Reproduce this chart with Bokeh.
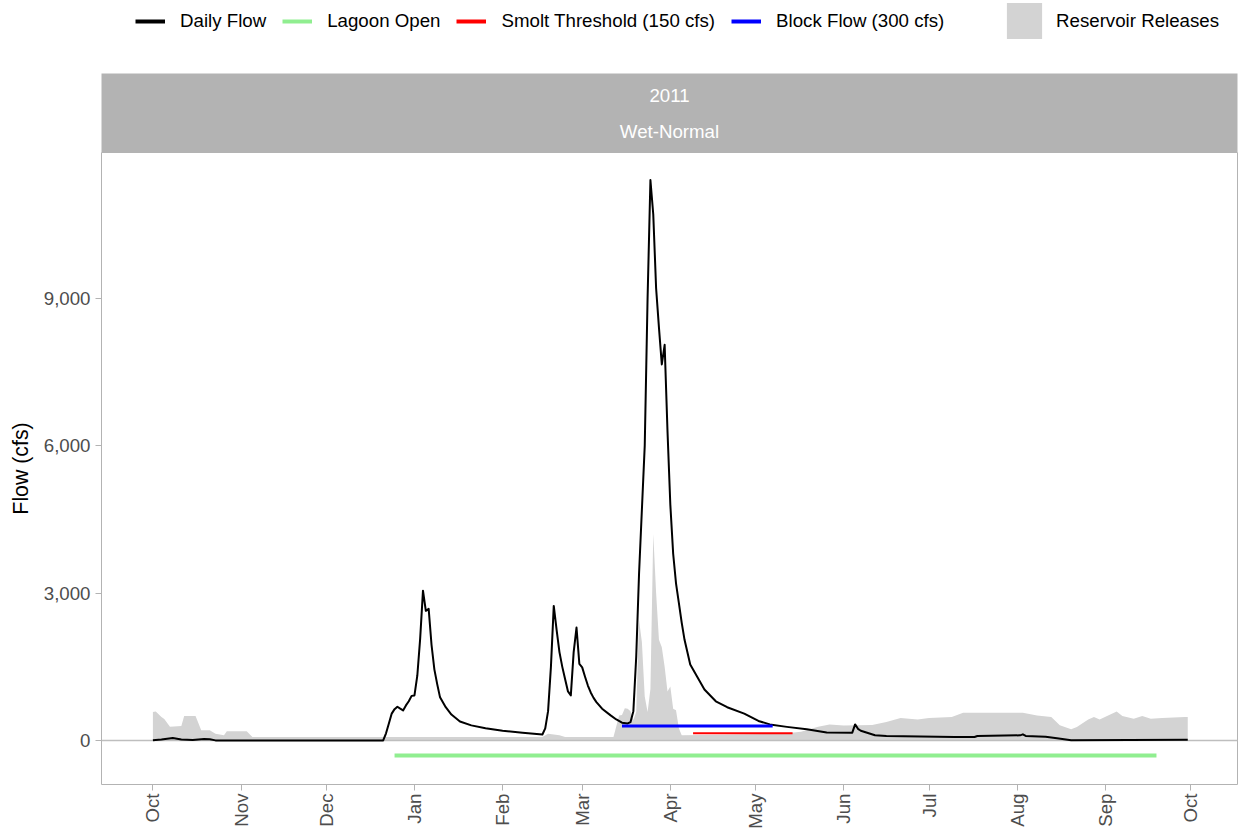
import math
import pandas as pd
from bokeh.plotting import figure
from bokeh.layouts import column
from bokeh.models import (Range1d, FixedTicker, NumeralTickFormatter, MonthsTicker,
                          DatetimeTickFormatter, Legend, LegendItem, Label)
from bokeh.embed import file_html
from bokeh.resources import INLINE

FONT = "Liberation Sans"
W = 1238
LEFT = 101
RIGHT = 1

# ---------------- data ----------------
flow_dates = [
    "2010-10-01", "2010-10-04", "2010-10-08", "2010-10-11", "2010-10-15", "2010-10-19", "2010-10-21", "2010-10-23",
    "2010-12-21", "2010-12-22", "2010-12-23", "2010-12-24", "2010-12-25", "2010-12-26", "2010-12-27",
    "2010-12-28", "2010-12-29", "2010-12-30", "2010-12-31",
    "2011-01-01", "2011-01-02", "2011-01-03", "2011-01-04", "2011-01-05", "2011-01-06", "2011-01-07",
    "2011-01-08", "2011-01-09", "2011-01-10", "2011-01-12", "2011-01-14", "2011-01-17", "2011-01-21", "2011-01-26",
    "2011-02-01", "2011-02-08", "2011-02-13", "2011-02-15", "2011-02-16", "2011-02-17", "2011-02-18",
    "2011-02-19", "2011-02-20", "2011-02-21", "2011-02-22", "2011-02-23", "2011-02-24", "2011-02-25",
    "2011-02-26", "2011-02-27", "2011-02-28",
    "2011-03-01", "2011-03-02", "2011-03-03", "2011-03-04", "2011-03-05", "2011-03-06", "2011-03-08",
    "2011-03-11", "2011-03-13", "2011-03-15", "2011-03-17", "2011-03-18", "2011-03-19", "2011-03-20",
    "2011-03-21", "2011-03-22", "2011-03-23", "2011-03-24", "2011-03-25", "2011-03-26", "2011-03-27",
    "2011-03-28", "2011-03-29", "2011-03-30", "2011-03-31",
    "2011-04-01", "2011-04-02", "2011-04-03", "2011-04-04", "2011-04-05", "2011-04-06", "2011-04-08",
    "2011-04-13", "2011-04-17", "2011-04-21", "2011-04-27",
    "2011-05-02", "2011-05-06", "2011-05-12", "2011-05-19", "2011-05-26",
    "2011-06-04", "2011-06-05", "2011-06-06", "2011-06-07", "2011-06-12", "2011-06-16",
    "2011-07-10", "2011-07-17", "2011-07-18",
    "2011-08-02", "2011-08-03", "2011-08-04", "2011-08-11", "2011-08-15", "2011-08-20",
    "2011-09-30",
]
flow_cfs = [
    10, 25, 55, 25, 15, 35, 30, 5,
    5, 150, 350, 550, 640, 690, 650,
    615, 716, 800, 910,
    920, 1320, 2070, 3050, 2640, 2680, 1950,
    1450, 1150, 880, 680, 530, 390, 310, 250,
    200, 160, 135, 125, 250, 600, 1500,
    2740, 2250, 1800, 1500, 1250, 1000, 920,
    1800, 2300, 1560,
    1490, 1300, 1120, 980, 870, 784, 650,
    513, 430, 365, 350, 378, 600, 1700,
    3400, 4700, 6000, 9000, 11400, 10700, 9200,
    8400, 7650, 8050, 6300,
    4800, 3800, 3200, 2800, 2400, 2050, 1550,
    1040, 800, 680, 550,
    400, 330, 280, 230, 165,
    162, 330, 240, 200, 110, 95,
    74, 74, 95,
    108, 128, 95, 80, 50, 10,
    20,
]

release_dates = [
    "2010-10-01", "2010-10-02", "2010-10-04", "2010-10-05", "2010-10-07", "2010-10-11", "2010-10-12",
    "2010-10-16", "2010-10-18", "2010-10-21", "2010-10-23", "2010-10-26", "2010-10-27", "2010-11-03",
    "2010-11-05",
    "2011-02-15", "2011-02-17", "2011-02-21", "2011-02-23", "2011-03-12", "2011-03-14", "2011-03-15",
    "2011-03-16", "2011-03-17", "2011-03-18", "2011-03-19", "2011-03-20", "2011-03-21", "2011-03-22",
    "2011-03-23", "2011-03-24", "2011-03-25", "2011-03-26", "2011-03-27", "2011-03-28", "2011-03-29",
    "2011-03-30", "2011-03-31", "2011-04-01", "2011-04-02", "2011-04-03", "2011-04-04", "2011-04-05",
    "2011-04-20", "2011-05-10", "2011-05-17", "2011-05-23", "2011-05-27", "2011-06-01", "2011-06-11",
    "2011-06-16", "2011-06-21", "2011-06-27", "2011-07-01", "2011-07-09", "2011-07-13", "2011-08-03",
    "2011-08-08", "2011-08-13", "2011-08-16", "2011-08-20", "2011-08-22", "2011-08-26", "2011-08-28",
    "2011-08-30", "2011-09-02", "2011-09-05", "2011-09-07", "2011-09-11", "2011-09-14", "2011-09-17",
    "2011-09-21", "2011-09-29", "2011-09-30",
]
release_cfs = [
    580, 590, 480, 440, 280, 300, 500,
    500, 210, 210, 140, 110, 190, 190,
    75,
    75, 140, 110, 75, 75, 510, 520,
    660, 650, 600, 420, 580, 2450, 2000,
    900, 580, 1050, 4200, 3000, 2050, 1900,
    1500, 1000, 1100, 650, 620, 250, 110,
    120, 140, 180, 280, 330, 310, 320,
    380, 460, 432, 460, 480, 568, 568,
    513, 480, 311, 230, 277, 432, 480,
    432, 513, 594, 500, 446, 500, 446,
    460, 480, 480,
]

lagoon_dates = ["2010-12-25", "2011-09-19"]
lagoon_cfs = [-300, -300]
smolt_dates = ["2011-04-09", "2011-05-14"]
smolt_cfs = [150, 150]
block_dates = ["2011-03-15", "2011-05-07"]
block_cfs = [300, 300]

y_ticks = [0, 3000, 6000, 9000]
zero_line = [0]
strip_year = "2011"
strip_type = "Wet-Normal"
legend_labels = ["Daily Flow", "Lagoon Open", "Smolt Threshold (150 cfs)", "Block Flow (300 cfs)"]
legend_colors = ["black", "#90EE90", "#FF0000", "#0000FF"]
release_label = "Reservoir Releases"

# ---------------- legend header ----------------
lf = figure(width=W, height=73, x_range=Range1d(0, 1), y_range=Range1d(0, 1),
            toolbar_location=None, output_backend="svg", min_border_left=LEFT,
            min_border_right=RIGHT, min_border_top=0, min_border_bottom=0,
            x_axis_location=None, y_axis_location=None, outline_line_color=None)
lf.xgrid.visible = False
lf.ygrid.visible = False
# legend-key renderers kept outside the visible range (only their keys are shown)
items = []
for lab, col in zip(legend_labels, legend_colors):
    r = lf.line(x=[5, 6], y=[5, 6], line_color=col, line_width=4)
    items.append(LegendItem(label=lab, renderers=[r]))
r_rel = lf.varea(x=[5, 6], y1=[5, 5], y2=[6, 6], fill_color="#D3D3D3")

leg1 = Legend(items=items, location=(135 - LEFT, 41), orientation="horizontal",
              glyph_width=30, glyph_height=22, label_height=22, label_standoff=15, spacing=16,
              padding=0, margin=0, border_line_color=None, background_fill_alpha=0,
              label_text_font=FONT, label_text_font_size="18.7px", label_text_color="black")
leg2 = Legend(items=[LegendItem(label=release_label, renderers=[r_rel])], location=(1002 - LEFT, 30),
              orientation="horizontal", glyph_width=44, glyph_height=45, label_height=45,
              label_standoff=10, padding=0, margin=0, border_line_color=None,
              background_fill_alpha=0, label_text_font=FONT, label_text_font_size="18.7px",
              label_text_color="black")
lf.add_layout(leg1)
lf.add_layout(leg2)

# ---------------- facet strip ----------------
sf = figure(width=W, height=79, x_range=Range1d(0, 1), y_range=Range1d(0, 79),
            toolbar_location=None, output_backend="svg", min_border_left=LEFT, min_border_right=RIGHT,
            min_border_top=0, min_border_bottom=0, x_axis_location=None, y_axis_location=None,
            outline_line_color=None, background_fill_color="#B3B3B3")
sf.xgrid.visible = False
sf.ygrid.visible = False
sf.add_layout(Label(x=0.5, y=57, text=strip_year, text_align="center", text_baseline="middle",
                    text_color="white", text_font=FONT, text_font_size="18.7px"))
sf.add_layout(Label(x=0.5, y=21, text=strip_type, text_align="center", text_baseline="middle",
                    text_color="white", text_font=FONT, text_font_size="18.7px"))

# ---------------- main panel ----------------
start = pd.Timestamp("2010-10-01")
x_range = Range1d(start - pd.Timedelta(days=18.08), start + pd.Timedelta(days=381.5))

p = figure(width=W, height=679, x_axis_type="datetime", x_range=x_range,
           y_range=Range1d(-892, 11960), toolbar_location=None, output_backend="svg",
           min_border_left=LEFT, min_border_right=RIGHT, min_border_top=0, min_border_bottom=0,
           outline_line_color="#B3B3B3", outline_line_width=1)
p.xgrid.visible = False
p.ygrid.visible = False

p.varea(x=pd.to_datetime(release_dates), y1=0, y2=release_cfs, fill_color="#D3D3D3")
p.hspan(y=zero_line, line_color="#BEBEBE", line_width=1.6)
p.line(pd.to_datetime(flow_dates), flow_cfs, line_color="black", line_width=2, line_join="round")
p.line(pd.to_datetime(lagoon_dates), lagoon_cfs, line_color=legend_colors[1], line_width=4)
p.line(pd.to_datetime(smolt_dates), smolt_cfs, line_color=legend_colors[2], line_width=2.2)
p.line(pd.to_datetime(block_dates), block_cfs, line_color=legend_colors[3], line_width=3)

xa = p.xaxis[0]
xa.ticker = MonthsTicker(months=list(range(12)))
xa.formatter = DatetimeTickFormatter(months="%b", days="%b", years="%b")
xa.major_label_orientation = math.pi / 2
xa.major_label_text_font = FONT
xa.major_label_text_font_size = "18.7px"
xa.major_label_text_color = "#4D4D4D"
xa.major_tick_line_color = "#B3B3B3"
xa.major_tick_out = 6
xa.major_tick_in = 0
xa.minor_tick_line_color = None
xa.axis_line_color = None
xa.major_label_standoff = 3

ya = p.yaxis[0]
ya.ticker = FixedTicker(ticks=y_ticks)
ya.formatter = NumeralTickFormatter(format="0,0")
ya.axis_label = "Flow (cfs)"
ya.axis_label_text_font = FONT
ya.axis_label_text_font_size = "21.3px"
ya.axis_label_text_font_style = "normal"
ya.axis_label_text_color = "black"
ya.axis_label_standoff = 8
ya.major_label_text_font = FONT
ya.major_label_text_font_size = "18.7px"
ya.major_label_text_color = "#4D4D4D"
ya.major_tick_line_color = "#B3B3B3"
ya.major_tick_out = 6
ya.major_tick_in = 0
ya.minor_tick_line_color = None
ya.axis_line_color = None
ya.major_label_standoff = 5

layout = column(lf, sf, p, spacing=0)
open("out.html", "w").write(file_html(layout, INLINE, title="Flow 2011"))
